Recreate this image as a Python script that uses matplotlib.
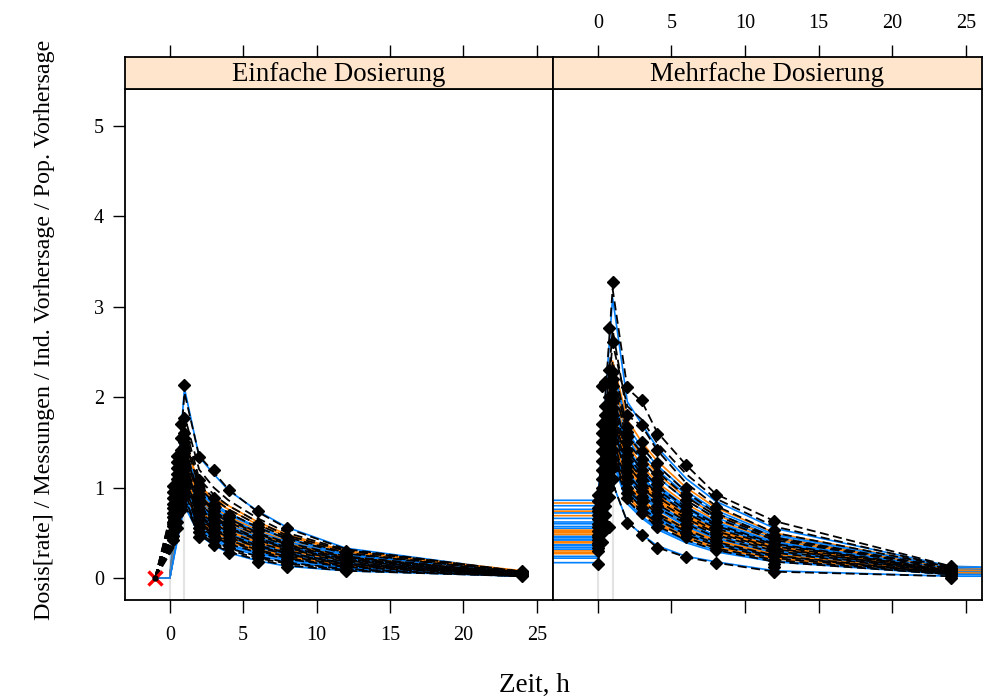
import numpy as np
import matplotlib
matplotlib.use("Agg")
import matplotlib.pyplot as plt

plt.rcParams['font.family'] = ['Liberation Serif', 'DejaVu Serif']

BLUE = "#0080ff"
ORANGE = "#ff8000"

# ---- Einfache Dosierung (single dose) ----
single_pred_times = [-1, 0, 1, 2, 3, 4, 6, 8, 12, 24]
single_pred_cols = ['b', 'o', 'b', 'o', 'b', 'b', 'o', 'b', 'b', 'o',
                    'b', 'b', 'o', 'b', 'b', 'o', 'b', 'b', 'b',
                    'o', 'b', 'b', 'o', 'b', 'b', 'o', 'b', 'b', 'o', 'b']
single_pred = [
    [0, 0, 2.10, 1.34, 1.15, 0.97, 0.74, 0.56, 0.33, 0.07],
    [0, 0, 1.55, 1.02, 0.88, 0.80, 0.62, 0.48, 0.30, 0.08],
    [0, 0, 1.48, 0.98, 0.82, 0.72, 0.56, 0.44, 0.27, 0.06],
    [0, 0, 1.40, 0.93, 0.78, 0.68, 0.53, 0.41, 0.25, 0.07],
    [0, 0, 1.35, 0.90, 0.74, 0.64, 0.50, 0.39, 0.24, 0.05],
    [0, 0, 1.30, 0.86, 0.71, 0.61, 0.47, 0.37, 0.22, 0.05],
    [0, 0, 1.26, 0.84, 0.69, 0.59, 0.46, 0.36, 0.23, 0.06],
    [0, 0, 1.22, 0.81, 0.66, 0.56, 0.43, 0.34, 0.20, 0.04],
    [0, 0, 1.18, 0.78, 0.63, 0.53, 0.41, 0.32, 0.19, 0.04],
    [0, 0, 1.15, 0.76, 0.61, 0.52, 0.40, 0.31, 0.20, 0.05],
    [0, 0, 1.11, 0.73, 0.59, 0.50, 0.38, 0.29, 0.17, 0.04],
    [0, 0, 1.07, 0.70, 0.56, 0.47, 0.36, 0.27, 0.16, 0.03],
    [0, 0, 1.04, 0.68, 0.55, 0.46, 0.35, 0.27, 0.17, 0.05],
    [0, 0, 1.00, 0.65, 0.52, 0.44, 0.33, 0.25, 0.15, 0.03],
    [0, 0, 0.96, 0.62, 0.49, 0.41, 0.31, 0.23, 0.13, 0.03],
    [0, 0, 0.93, 0.60, 0.48, 0.40, 0.30, 0.23, 0.14, 0.04],
    [0, 0, 0.90, 0.57, 0.45, 0.37, 0.28, 0.21, 0.12, 0.02],
    [0, 0, 0.86, 0.53, 0.42, 0.34, 0.25, 0.18, 0.10, 0.02],
    [0, 0, 0.80, 0.48, 0.36, 0.28, 0.19, 0.13, 0.08, 0.02],
    [0, 0, 1.52, 1.00, 0.85, 0.76, 0.59, 0.46, 0.29, 0.07],
    [0, 0, 1.44, 0.95, 0.80, 0.70, 0.55, 0.43, 0.26, 0.06],
    [0, 0, 1.37, 0.91, 0.76, 0.66, 0.51, 0.40, 0.25, 0.06],
    [0, 0, 1.32, 0.88, 0.73, 0.63, 0.49, 0.38, 0.23, 0.05],
    [0, 0, 1.24, 0.83, 0.68, 0.58, 0.45, 0.35, 0.21, 0.05],
    [0, 0, 1.20, 0.80, 0.65, 0.55, 0.42, 0.33, 0.20, 0.04],
    [0, 0, 1.13, 0.75, 0.60, 0.51, 0.39, 0.30, 0.18, 0.04],
    [0, 0, 1.09, 0.72, 0.58, 0.49, 0.37, 0.28, 0.17, 0.04],
    [0, 0, 1.02, 0.67, 0.54, 0.45, 0.34, 0.26, 0.16, 0.04],
    [0, 0, 0.98, 0.64, 0.51, 0.43, 0.32, 0.24, 0.14, 0.03],
    [0, 0, 0.88, 0.55, 0.44, 0.36, 0.27, 0.20, 0.11, 0.02],
]
single_ipred_times = [-1, 0.5, 1, 2, 3, 4, 6, 8, 12, 24]
single_ipred = [
    [0, 1.00, 2.05, 1.35, 1.17, 0.98, 0.73, 0.55, 0.32, 0.07],
    [0, 0.95, 1.70, 1.10, 0.92, 0.80, 0.62, 0.47, 0.30, 0.07],
    [0, 0.85, 1.55, 1.00, 0.84, 0.72, 0.56, 0.43, 0.27, 0.06],
    [0, 0.80, 1.45, 0.92, 0.76, 0.66, 0.50, 0.39, 0.24, 0.05],
    [0, 0.75, 1.38, 0.88, 0.72, 0.62, 0.47, 0.36, 0.22, 0.05],
    [0, 0.70, 1.30, 0.83, 0.68, 0.58, 0.44, 0.34, 0.21, 0.05],
    [0, 0.66, 1.24, 0.78, 0.64, 0.55, 0.42, 0.32, 0.19, 0.04],
    [0, 0.62, 1.18, 0.74, 0.60, 0.51, 0.39, 0.30, 0.18, 0.04],
    [0, 0.60, 1.12, 0.70, 0.57, 0.48, 0.36, 0.28, 0.16, 0.04],
    [0, 0.56, 1.06, 0.66, 0.53, 0.45, 0.34, 0.26, 0.15, 0.03],
    [0, 0.52, 1.00, 0.62, 0.50, 0.42, 0.31, 0.24, 0.14, 0.03],
    [0, 0.48, 0.94, 0.57, 0.46, 0.38, 0.28, 0.21, 0.12, 0.03],
    [0, 0.45, 0.88, 0.52, 0.41, 0.33, 0.24, 0.17, 0.10, 0.02],
    [0, 0.40, 0.82, 0.48, 0.37, 0.29, 0.20, 0.14, 0.08, 0.02],
    [0, 0.98, 1.80, 1.20, 1.00, 0.86, 0.66, 0.50, 0.31, 0.07],
    [0, 0.90, 1.62, 1.05, 0.88, 0.76, 0.59, 0.45, 0.28, 0.06],
    [0, 0.78, 1.42, 0.90, 0.74, 0.64, 0.49, 0.37, 0.23, 0.05],
    [0, 0.68, 1.27, 0.80, 0.66, 0.56, 0.43, 0.33, 0.20, 0.05],
    [0, 0.58, 1.09, 0.68, 0.55, 0.46, 0.35, 0.27, 0.16, 0.04],
    [0, 0.50, 0.97, 0.60, 0.48, 0.40, 0.30, 0.22, 0.13, 0.03],
    [0, 0.43, 0.85, 0.50, 0.39, 0.31, 0.22, 0.16, 0.09, 0.02],
]
single_obs = {
    0.25: [0.42, 0.47, 0.52, 0.58, 0.62, 0.67, 0.72, 0.77, 0.82, 0.88, 0.95, 1.02],
    0.5: [0.55, 0.62, 0.70, 0.78, 0.84, 0.90, 0.97, 1.05, 1.10, 1.15, 1.22, 1.28, 1.35],
    0.75: [0.75, 0.82, 0.88, 0.95, 1.00, 1.05, 1.12, 1.18, 1.22, 1.27, 1.32, 1.42, 1.55, 1.70],
    1: [0.90, 0.96, 1.00, 1.05, 1.08, 1.12, 1.15, 1.19, 1.22, 1.26, 1.30, 1.35,
        1.38, 1.42, 1.45, 1.50, 1.55, 1.60, 1.77, 2.13],
    2: [0.45, 0.51, 0.55, 0.60, 0.64, 0.68, 0.71, 0.74, 0.78, 0.82, 0.86, 0.90,
        0.93, 0.97, 1.02, 1.08, 1.34],
    3: [0.37, 0.42, 0.46, 0.50, 0.54, 0.58, 0.61, 0.64, 0.67, 0.70, 0.74, 0.78,
        0.82, 0.88, 1.19],
    4: [0.28, 0.33, 0.37, 0.41, 0.44, 0.48, 0.51, 0.54, 0.57, 0.60, 0.63, 0.67,
        0.70, 0.97],
    6: [0.18, 0.22, 0.26, 0.29, 0.32, 0.35, 0.38, 0.41, 0.44, 0.48, 0.52, 0.56, 0.60, 0.74],
    8: [0.12, 0.15, 0.18, 0.21, 0.24, 0.27, 0.30, 0.33, 0.36, 0.40, 0.45, 0.55],
    12: [0.08, 0.10, 0.12, 0.14, 0.16, 0.18, 0.20, 0.22, 0.25, 0.28, 0.30],
    24: [0.02, 0.03, 0.04, 0.05, 0.06, 0.07, 0.08],
}
single_dose = (-1, 0)

# ---- Mehrfache Dosierung (multiple dose) ----
multi_pred_times = [-3.2, 0, 1, 2, 3, 4, 6, 8, 12, 24, 26.5]
multi_pred_cols = ['b', 'o', 'b', 'b', 'o', 'b', 'b', 'o', 'o', 'b',
                   'b', 'o', 'b', 'b', 'o', 'o', 'b', 'b', 'b', 'o',
                   'b', 'o', 'b', 'b', 'o', 'o', 'b', 'b', 'o', 'b', 'b', 'o', 'b']
multi_pred = [
    [0.86, 0.86, 3.10, 1.95, 1.70, 1.45, 1.10, 0.85, 0.55, 0.13, 0.12],
    [0.83, 0.83, 2.40, 1.75, 1.50, 1.30, 1.00, 0.78, 0.50, 0.12, 0.11],
    [0.76, 0.76, 2.30, 1.62, 1.38, 1.20, 0.92, 0.72, 0.46, 0.11, 0.10],
    [0.72, 0.72, 2.20, 1.55, 1.30, 1.12, 0.86, 0.67, 0.43, 0.10, 0.09],
    [0.69, 0.69, 2.10, 1.48, 1.24, 1.06, 0.82, 0.64, 0.42, 0.11, 0.10],
    [0.60, 0.60, 2.00, 1.40, 1.17, 1.00, 0.76, 0.59, 0.38, 0.09, 0.08],
    [0.57, 0.57, 1.92, 1.33, 1.10, 0.94, 0.71, 0.55, 0.35, 0.08, 0.07],
    [0.52, 0.52, 1.85, 1.27, 1.05, 0.89, 0.68, 0.53, 0.34, 0.09, 0.08],
    [0.50, 0.50, 1.78, 1.21, 1.00, 0.85, 0.64, 0.50, 0.32, 0.08, 0.08],
    [0.45, 0.45, 1.72, 1.16, 0.95, 0.80, 0.60, 0.46, 0.29, 0.07, 0.06],
    [0.42, 0.42, 1.66, 1.11, 0.91, 0.76, 0.57, 0.43, 0.27, 0.06, 0.05],
    [0.40, 0.40, 1.60, 1.06, 0.87, 0.73, 0.55, 0.42, 0.27, 0.07, 0.07],
    [0.37, 0.37, 1.55, 1.02, 0.83, 0.70, 0.52, 0.40, 0.25, 0.05, 0.05],
    [0.34, 0.34, 1.50, 0.98, 0.79, 0.66, 0.49, 0.37, 0.23, 0.05, 0.04],
    [0.30, 0.30, 1.45, 0.94, 0.76, 0.63, 0.47, 0.36, 0.23, 0.06, 0.06],
    [0.27, 0.27, 1.40, 0.90, 0.72, 0.60, 0.44, 0.33, 0.21, 0.06, 0.05],
    [0.24, 0.24, 1.35, 0.85, 0.68, 0.56, 0.41, 0.31, 0.19, 0.04, 0.04],
    [0.17, 0.17, 1.05, 0.62, 0.48, 0.36, 0.24, 0.18, 0.08, 0.02, 0.02],
    [0.55, 0.55, 1.95, 1.36, 1.12, 0.96, 0.73, 0.57, 0.36, 0.08, 0.07],
    [0.48, 0.48, 1.70, 1.14, 0.93, 0.78, 0.59, 0.45, 0.29, 0.07, 0.07],
    [0.80, 0.80, 2.35, 1.68, 1.44, 1.25, 0.96, 0.75, 0.48, 0.12, 0.11],
    [0.74, 0.74, 2.25, 1.58, 1.34, 1.16, 0.89, 0.70, 0.45, 0.10, 0.10],
    [0.66, 0.66, 2.05, 1.44, 1.20, 1.03, 0.79, 0.62, 0.40, 0.10, 0.09],
    [0.62, 0.62, 2.02, 1.42, 1.19, 1.02, 0.78, 0.61, 0.39, 0.09, 0.09],
    [0.53, 0.53, 1.88, 1.30, 1.08, 0.92, 0.70, 0.54, 0.35, 0.09, 0.08],
    [0.51, 0.51, 1.82, 1.24, 1.03, 0.87, 0.66, 0.51, 0.33, 0.08, 0.08],
    [0.46, 0.46, 1.75, 1.18, 0.97, 0.82, 0.62, 0.47, 0.30, 0.07, 0.07],
    [0.43, 0.43, 1.68, 1.13, 0.93, 0.78, 0.58, 0.44, 0.28, 0.06, 0.06],
    [0.39, 0.39, 1.58, 1.04, 0.85, 0.71, 0.53, 0.41, 0.26, 0.06, 0.06],
    [0.36, 0.36, 1.52, 1.00, 0.81, 0.68, 0.50, 0.38, 0.24, 0.05, 0.05],
    [0.32, 0.32, 1.47, 0.96, 0.77, 0.64, 0.48, 0.36, 0.23, 0.05, 0.05],
    [0.28, 0.28, 1.42, 0.91, 0.73, 0.61, 0.45, 0.34, 0.22, 0.06, 0.05],
    [0.22, 0.22, 1.30, 0.82, 0.66, 0.54, 0.39, 0.29, 0.18, 0.04, 0.04],
]
multi_ipred_times = [0, 1, 2, 3, 4, 6, 8, 12, 24]
multi_ipred = [
    [0.80, 3.20, 2.10, 1.95, 1.62, 1.25, 0.93, 0.63, 0.13],
    [0.70, 2.75, 1.80, 1.68, 1.42, 1.05, 0.80, 0.50, 0.12],
    [0.65, 2.40, 1.65, 1.45, 1.25, 0.95, 0.72, 0.45, 0.11],
    [0.60, 2.20, 1.50, 1.30, 1.12, 0.86, 0.66, 0.42, 0.10],
    [0.55, 2.05, 1.40, 1.20, 1.02, 0.78, 0.60, 0.38, 0.09],
    [0.50, 1.90, 1.30, 1.10, 0.94, 0.72, 0.55, 0.35, 0.08],
    [0.45, 1.78, 1.20, 1.00, 0.86, 0.66, 0.50, 0.32, 0.07],
    [0.40, 1.65, 1.10, 0.92, 0.78, 0.60, 0.45, 0.28, 0.06],
    [0.35, 1.55, 1.02, 0.85, 0.72, 0.54, 0.40, 0.25, 0.05],
    [0.30, 1.45, 0.94, 0.78, 0.65, 0.48, 0.36, 0.22, 0.05],
    [0.25, 1.35, 0.86, 0.70, 0.58, 0.42, 0.31, 0.18, 0.04],
    [0.18, 1.05, 0.62, 0.48, 0.34, 0.23, 0.17, 0.07, 0.02],
    [0.75, 2.60, 1.90, 1.75, 1.50, 1.15, 0.88, 0.57, 0.12],
    [0.62, 2.30, 1.58, 1.38, 1.18, 0.90, 0.69, 0.44, 0.10],
    [0.52, 1.98, 1.35, 1.15, 0.98, 0.75, 0.58, 0.37, 0.08],
    [0.47, 1.84, 1.25, 1.05, 0.90, 0.69, 0.52, 0.33, 0.07],
    [0.42, 1.70, 1.15, 0.96, 0.82, 0.63, 0.48, 0.30, 0.06],
    [0.33, 1.50, 0.98, 0.82, 0.69, 0.51, 0.38, 0.24, 0.05],
    [0.28, 1.40, 0.90, 0.74, 0.61, 0.45, 0.33, 0.20, 0.04],
]
multi_obs = {
    0: [0.16, 0.30, 0.33, 0.36, 0.39, 0.42, 0.45, 0.48, 0.52, 0.56, 0.60, 0.65,
        0.70, 0.74, 0.78, 0.85, 0.92],
    0.25: [0.40, 0.50, 0.60, 0.70, 0.80, 0.90, 1.00, 1.10, 1.20, 1.30, 1.40, 1.50,
           1.60, 1.70, 2.12],
    0.5: [0.60, 0.70, 0.80, 0.90, 0.98, 1.06, 1.14, 1.22, 1.30, 1.40, 1.50, 1.60,
          1.70, 1.80, 1.90, 2.17],
    0.75: [0.57, 0.90, 1.00, 1.10, 1.20, 1.30, 1.40, 1.50, 1.60, 1.70, 1.80,
           1.90, 2.00, 2.30, 2.77],
    1: [1.10, 1.22, 1.32, 1.42, 1.52, 1.62, 1.72, 1.80, 1.88, 1.96, 2.04, 2.12,
        2.20, 2.28, 2.61, 3.27],
    2: [0.61, 0.88, 0.94, 1.00, 1.06, 1.12, 1.18, 1.24, 1.30, 1.36, 1.42, 1.50,
        1.56, 1.62, 1.67, 1.80, 2.11],
    3: [0.48, 0.72, 0.78, 0.84, 0.90, 0.96, 1.02, 1.08, 1.14, 1.20, 1.26, 1.32,
        1.40, 1.50, 1.69, 1.97],
    4: [0.33, 0.56, 0.62, 0.68, 0.74, 0.80, 0.86, 0.92, 0.98, 1.04, 1.10, 1.16,
        1.27, 1.42, 1.59],
    6: [0.23, 0.45, 0.50, 0.55, 0.60, 0.65, 0.70, 0.75, 0.80, 0.86, 0.92, 1.00, 1.25],
    8: [0.17, 0.31, 0.36, 0.41, 0.45, 0.49, 0.53, 0.57, 0.62, 0.67, 0.72, 0.79, 0.92],
    12: [0.07, 0.12, 0.16, 0.20, 0.24, 0.27, 0.30, 0.33, 0.36, 0.40, 0.44, 0.48,
         0.53, 0.63],
    24: [0.00, 0.02, 0.04, 0.05, 0.06, 0.07, 0.08, 0.09, 0.10, 0.11, 0.13],
}

# infusion start / end marks (Dosis[rate])
infusion_x = [0, 1]
infusion_rate = 0.9

panels = ["Einfache Dosierung", "Mehrfache Dosierung"]
xticks = [0, 5, 10, 15, 20, 25]
yticks = [0, 1, 2, 3, 4, 5]

fig = plt.figure(figsize=(9.84, 6.98), dpi=100)
W, H = 984, 698

def fx(p):
    return p / W

def fy(p):
    return 1 - p / H

ax_l = fig.add_axes([fx(125), fy(600), fx(553 - 125), (600 - 89) / H])
ax_r = fig.add_axes([fx(553), fy(600), fx(982 - 553), (600 - 89) / H], sharey=ax_l)
st_l = fig.add_axes([fx(125), fy(89), fx(553 - 125), (89 - 57) / H], sharex=ax_l)
st_r = fig.add_axes([fx(553), fy(89), fx(982 - 553), (89 - 57) / H], sharex=ax_r)

def col(c):
    return BLUE if c == 'b' else ORANGE

def draw(ax, pred_t, pred, cols, ipred_t, ipred, obs):
    for x in infusion_x:
        ax.plot([x, x], [-0.3, infusion_rate], color="#e3e3e3", lw=1.5, zorder=1)
    for vals, c in zip(pred, cols):
        ax.plot(pred_t, vals, color=col(c), lw=1.2, zorder=2)
    for vals in ipred:
        ax.plot(ipred_t, vals, color="black", lw=1.3, ls=(0, (5, 2.5)), zorder=3)
    for t, ys in obs.items():
        ax.plot([t] * len(ys), ys, ls="none", marker="D", ms=6.5,
                color="black", zorder=4)

draw(ax_l, single_pred_times, single_pred, single_pred_cols,
     single_ipred_times, single_ipred, single_obs)
draw(ax_r, multi_pred_times, multi_pred, multi_pred_cols,
     multi_ipred_times, multi_ipred, multi_obs)

ax_l.plot(*single_dose, marker="x", color="red", ms=10, mew=2.4, zorder=5)
ax_l.plot(*single_dose, marker="o", color="black", ms=3.5, zorder=6)

for ax in (ax_l, ax_r):
    ax.set_xlim(-3.05, 26.1)
    ax.set_ylim(-0.243, 5.41)
    for s in ax.spines.values():
        s.set_linewidth(1.3)
    ax.tick_params(direction="out", length=9, width=1.0, labelsize=14.5, pad=10)
    ax.set_xticks(xticks)

ax_l.set_yticks(yticks)
ax_l.tick_params(axis="y", pad=6)
ax_r.tick_params(axis="y", left=False, labelleft=False)
ax_r.tick_params(axis="x", labelbottom=False)

for st, name, lab in ((st_l, panels[0], False), (st_r, panels[1], True)):
    st.set_facecolor("#ffe5cc")
    st.set_ylim(0, 1)
    st.set_yticks([])
    for s in st.spines.values():
        s.set_linewidth(1.3)
    st.tick_params(axis="x", bottom=False, labelbottom=False, top=True,
                   labeltop=lab, direction="out", length=9, width=1.0,
                   labelsize=14.5, pad=8)
    st.text(0.5, 0.45, name, transform=st.transAxes, ha="center", va="center",
            fontsize=19.3)

fig.text(fx(534), fy(685), "Zeit, h", ha="center", va="center", fontsize=19.5)
fig.text(fx(45), fy(330), "Dosis[rate] / Messungen / Ind. Vorhersage / Pop. Vorhersage",
         rotation=90, ha="center", va="center", fontsize=17.3)

fig.savefig("out.png", dpi=100)
